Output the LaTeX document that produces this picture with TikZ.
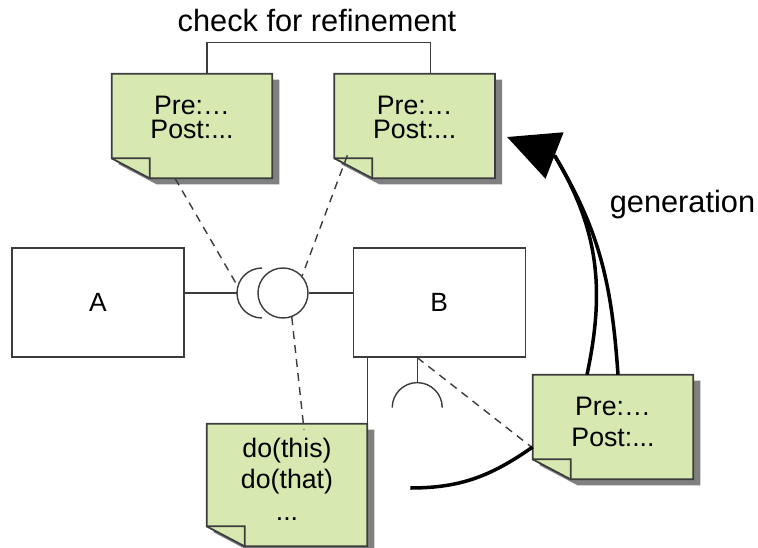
\documentclass[tikz,border=0pt]{standalone}
\usepackage{fontspec}
\setmainfont{Liberation Sans}
\usetikzlibrary{arrows.meta, calc, positioning, backgrounds}

\definecolor{notegreen}{RGB}{215,232,176}
\definecolor{lineg}{RGB}{60,60,60}
\definecolor{shadowg}{RGB}{128,128,128}

\begin{document}
\begin{tikzpicture}[
    note/.style={minimum width=3.2cm, minimum height=2.08cm, inner sep=0pt, align=center, font=\fontsize{15.2}{13.8}\selectfont},
    comp/.style={rectangle, draw=lineg, fill=white, line width=0.7pt, minimum width=3.44cm, minimum height=2.18cm, font=\fontsize{15}{18}\selectfont},
    iface/.style={draw=lineg, line width=0.8pt},
    dep/.style={draw=lineg, line width=0.8pt, dash pattern=on 4.5pt off 3.5pt},
    flow/.style={line width=2pt},
    gener/.style={line width=2pt, -{Triangle[length=1.02cm, width=0.98cm]}}
]
    \useasboundingbox (0,0) rectangle (15.16,10.94);

    % 规约便签
    \node[note, text depth=0.36cm] (spec1) at (3.84,8.42) {Pre:…\\Post:...};
    \node[note, text depth=0.36cm, right=1.24cm of spec1] (spec2) {Pre:…\\Post:...};
    \node[note, minimum height=2.44cm, text depth=0.24cm, font=\fontsize{15.2}{18}\selectfont] (impl) at (5.74,1.24) {do(this)\\do(that)\\...};
    \node[note, text depth=0.2cm, font=\fontsize{15.2}{17.6}\selectfont] (gen) at (12.26,2.40) {Pre:…\\Post:...};

    % 组件
    \node[comp] (A) at (1.96,4.89) {A};
    \node[comp, right=3.36cm of A] (B) {B};

    % 便签外形：阴影、折角
    \begin{scope}[on background layer]
        \foreach \n in {spec1,spec2,impl,gen} {
            \fill[shadowg, transform canvas={xshift=0.14cm, yshift=-0.12cm}]
                (\n.north west) -- (\n.north east) -- (\n.south east) -- ([xshift=0.76cm]\n.south west) -- ([yshift=0.4cm]\n.south west) -- cycle;
            \filldraw[fill=notegreen, draw=lineg, line width=1pt]
                (\n.north west) -- (\n.north east) -- (\n.south east) -- ([xshift=0.76cm]\n.south west) -- ([yshift=0.4cm]\n.south west) -- cycle;
            \draw[lineg, line width=1pt] ([yshift=0.4cm]\n.south west) -- ++(0.76,0) -- ([xshift=0.76cm]\n.south west);
        }
    \end{scope}

    % 接口
    \node[circle, iface, minimum size=1cm, inner sep=0pt] (prov) at (5.66,5.08) {};
    \coordinate (req) at (5.24,5.08);
    \draw[iface] ([yshift=0.5cm]req) arc[start angle=90, end angle=270, radius=0.5cm];
    \draw[iface] (A.east |- req) -- ([xshift=-0.5cm]req);
    \draw[iface] (prov.east) -- (prov.east -| B.west);

    \coordinate (bport) at ([xshift=-0.44cm]B.south);
    \draw[iface] (bport) -- ++(0,-0.5);
    \draw[iface] ([shift={(-0.5,-1)}]bport) arc[start angle=180, end angle=0, radius=0.5cm];
    \draw[iface] (impl.north east) -- (impl.north east |- B.south);

    % 检查精化
    \draw[iface] ([xshift=0.3cm]spec1.north) -- ++(0,0.62) -| ([xshift=0.31cm]spec2.north);
    \node[font=\fontsize{17.5}{20}\selectfont] (refine) at (6.34,10.52) {check for refinement};

    % 虚线关联
    \draw[dep] ([xshift=-0.34cm]spec1.south) -- ([shift={(165:0.5)}]req);
    \draw[dep] ([shift={(0.26,0.46)}]spec2.south west) -- (prov.42);
    \draw[dep] (prov.-70) -- ([shift={(0.34,-0.12)}]impl.north);
    \draw[dep] (bport) -- ([yshift=-0.42cm]gen.west);

    % 生成
    \draw[flow] ([shift={(0.86,-0.06)}]impl.east) to[out=0, in=215] ([yshift=-0.4cm]gen.west);
    \coordinate (gentip) at ([shift={(0.24,-0.22)}]spec2.east);
    \coordinate (genbase) at ($(gentip)+(-21.3:1.02)$);
    \draw[flow] ([xshift=0.1cm]gen.north) to[out=94, in=-59] (genbase);
    \draw[flow] ([xshift=-0.52cm]gen.north) to[out=78, in=-59] (genbase);
    \draw[gener] (genbase) -- (gentip);
    \node[font=\fontsize{17.5}{20}\selectfont] (genlabel) at (13.65,6.85) {generation};
\end{tikzpicture}
\end{document}
